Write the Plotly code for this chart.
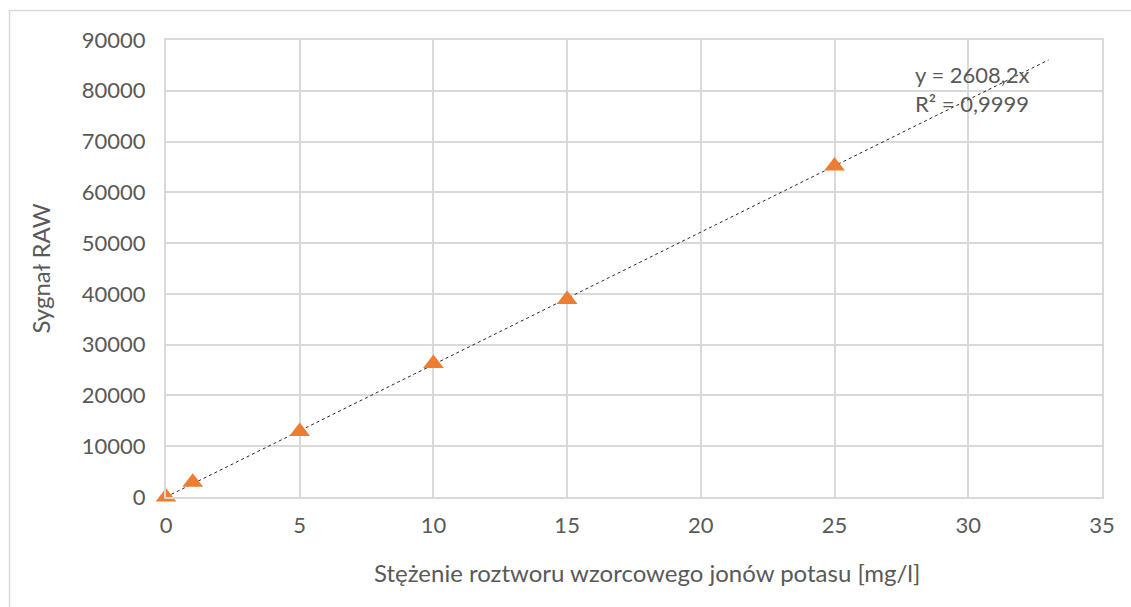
import plotly.graph_objects as go

# Calibration standards: potassium ion concentration vs raw signal
stezenie = [0, 1, 5, 10, 15, 25]
sygnal = [0, 2900, 12900, 26300, 38900, 65200]

# Linear trend forced through the origin
nachylenie = 2608.2
r2 = "0,9999"
trend_x = [0, 33]
trend_y = [nachylenie * x for x in trend_x]

x_ticks = [0, 5, 10, 15, 20, 25, 30, 35]
y_ticks = [0, 10000, 20000, 30000, 40000, 50000, 60000, 70000, 80000, 90000]

font_family = "Lato, 'Open Sans', sans-serif"
text_color = "#595959"
grid_color = "#D9D9D9"

fig = go.Figure()

fig.add_trace(go.Scatter(
    x=trend_x, y=trend_y, mode="lines",
    line=dict(color="#262626", width=1, dash="dot"),
    hoverinfo="skip", showlegend=False,
))

fig.add_trace(go.Scatter(
    x=stezenie, y=sygnal, mode="markers",
    marker=dict(symbol="triangle-up", size=18, color="#ED7D31",
                line=dict(width=0)),
    cliponaxis=False, showlegend=False,
))

fig.add_annotation(
    x=0.798, xref="paper", y=80350, yref="y",
    xanchor="left", yanchor="middle", align="left",
    text=f"y = {str(nachylenie).replace('.', ',')}x<br>R² = {r2}",
    showarrow=False,
    font=dict(family=font_family, size=22, color=text_color),
)

# X-axis title, placed slightly right of the plot centre
fig.add_annotation(
    x=0.514, xref="paper", y=-0.166, yref="paper",
    xanchor="center", yanchor="middle",
    text="Stężenie roztworu wzorcowego jonów potasu [mg/l]",
    showarrow=False,
    font=dict(family=font_family, size=24, color=text_color),
)

# Outer chart frame
fig.add_shape(
    type="rect", xref="paper", yref="paper",
    x0=-0.1672, x1=1.06, y0=-0.30, y1=1.0646,
    line=dict(color="#D9D9D9", width=1.5), fillcolor="rgba(0,0,0,0)",
    layer="below",
)

axis_common = dict(
    showgrid=True, gridcolor=grid_color, gridwidth=2,
    zeroline=False, showline=True, linecolor=grid_color, linewidth=2,
    mirror=True, ticks="",
    tickfont=dict(family=font_family, size=22, color=text_color),
)

fig.update_xaxes(
    range=[0, 35], tickvals=x_ticks, ticklabelstandoff=8,
    **axis_common,
)
fig.update_yaxes(
    range=[0, 90000], tickvals=y_ticks,
    ticktext=[str(v) for v in y_ticks], ticklabelstandoff=14,
    title=dict(text="Sygnał RAW",
               font=dict(family=font_family, size=24, color=text_color),
               standoff=24),
    **axis_common,
)

fig.update_layout(
    width=1131, height=607,
    margin=dict(l=166, r=29, t=40, b=110),
    paper_bgcolor="white", plot_bgcolor="white",
)

fig.write_html("out.html")
